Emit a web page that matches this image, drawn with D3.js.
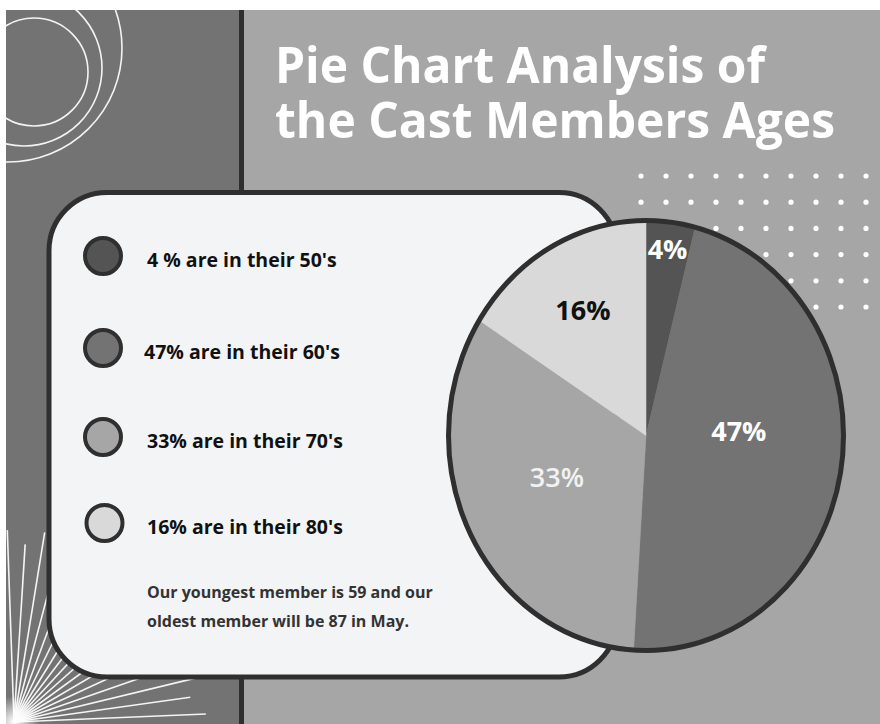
<!DOCTYPE html>
<html><head><meta charset="utf-8">
<script src="https://cdn.jsdelivr.net/npm/d3@7"></script>
<style>body{margin:0;background:#fff} svg{display:block}</style>
</head><body><svg id="c" width="880" height="724"></svg>
<script>
// ---- data ----
const categories = ["50's", "60's", "70's", "80's"];
const values = [4, 47, 33, 16];
const legendLabels = ["4 % are in their 50's", "47% are in their 60's", "33% are in their 70's", "16% are in their 80's"];
const sliceColors = ["#545454", "#737373", "#a6a6a6", "#d9d9d9"];
const titleLines = ["Pie Chart Analysis of", "the Cast Members Ages"];
const noteLines = ["Our youngest member is 59 and our", "oldest member will be 87 in May."];

// ---- layout / style ----
const labelColors = ["#ffffff", "#ffffff", "#f2f2f2", "#111111"];
const labelWeights = [700, 700, 600, 700];
const labelRadius = [172, 94, 100, 131];
const labelNudgeY = [0, -20, -7, 0];
const legendRowY = [256, 348, 437, 523];
const titleWidths = [490, 560];
const FONT = "'Open Sans', sans-serif";

const svg = d3.select("#c");
const W = 880, H = 724;

// backgrounds
svg.append("rect").attr("x", 6).attr("y", 10).attr("width", W - 6).attr("height", H - 10).attr("fill", "#a6a6a6");
svg.append("rect").attr("x", 6).attr("y", 10).attr("width", 234).attr("height", H - 10).attr("fill", "#737373");

const defs = svg.append("defs");
defs.append("clipPath").attr("id", "leftClip").append("rect")
  .attr("x", 6).attr("y", 10).attr("width", 234).attr("height", H - 10);
const glow = defs.append("radialGradient").attr("id", "glow");
glow.append("stop").attr("offset", "0%").attr("stop-color", "#fff").attr("stop-opacity", 1);
glow.append("stop").attr("offset", "100%").attr("stop-color", "#fff").attr("stop-opacity", 0);

const deco = svg.append("g").attr("clip-path", "url(#leftClip)");
// top-left outline circles
[[34, 72, 54], [24, 68, 78], [8, 48, 114]].forEach(([cx, cy, r]) => {
  deco.append("circle").attr("cx", cx).attr("cy", cy).attr("r", r)
    .attr("fill", "none").attr("stroke", "#f4f4f4").attr("stroke-width", 1.6);
});
// bottom-left sunburst
const ox = 14, oy = 722;
d3.range(17).forEach(i => {
  const a = (-2 + i * 5.6) * Math.PI / 180;
  const len = i % 2 ? 178 : 192;
  deco.append("line").attr("x1", ox).attr("y1", oy)
    .attr("x2", ox + len * Math.sin(a)).attr("y2", oy - len * Math.cos(a))
    .attr("stroke", "#f4f4f4").attr("stroke-width", 1.6);
});
deco.append("circle").attr("cx", ox).attr("cy", oy).attr("r", 26).attr("fill", "url(#glow)");

// divider line
svg.append("rect").attr("x", 239).attr("y", 10).attr("width", 5).attr("height", H - 10).attr("fill", "#2f2f2f");

// dot grid
const dotX = d3.range(10).map(i => 641 + i * 25);
const dotY = d3.range(6).map(i => 176 + i * 26.2);
dotY.forEach(y => dotX.forEach(x => {
  svg.append("circle").attr("cx", x).attr("cy", y).attr("r", 2.6).attr("fill", "#ffffff");
}));

// title
svg.append("g").selectAll("text").data(titleLines).join("text")
  .attr("x", 275).attr("y", (d, i) => 83 + i * 55)
  .attr("textLength", (d, i) => titleWidths[i]).attr("lengthAdjust", "spacingAndGlyphs")
  .attr("fill", "#ffffff").attr("font-family", FONT).attr("font-weight", 700)
  .attr("font-size", 51).text(d => d);

// card
svg.append("rect").attr("x", 49).attr("y", 192.5).attr("width", 568).attr("height", 484.5)
  .attr("rx", 58).attr("ry", 58)
  .attr("fill", "#f3f4f6").attr("stroke", "#2f2f2f").attr("stroke-width", 5);

// legend
const yLeg = d3.scaleOrdinal().domain(categories).range(legendRowY);
const leg = svg.append("g").selectAll("g").data(categories).join("g")
  .attr("transform", d => `translate(0,${yLeg(d)})`);
leg.append("circle").attr("cx", (d, i) => i === 3 ? 104.5 : 103).attr("cy", 0).attr("r", 18)
  .attr("fill", (d, i) => sliceColors[i]).attr("stroke", "#2f2f2f").attr("stroke-width", 4);
leg.append("text").attr("x", (d, i) => i === 1 ? 144 : 147).attr("y", 11)
  .attr("font-family", FONT).attr("font-weight", 700).attr("font-size", 19.5)
  .attr("fill", "#111").text((d, i) => legendLabels[i]);

// note
svg.append("g").selectAll("text").data(noteLines).join("text")
  .attr("x", 147).attr("y", (d, i) => 598 + i * 29)
  .attr("font-family", FONT).attr("font-weight", 700).attr("font-size", 16)
  .attr("fill", "#333").text(d => d);

// pie
const cx = 646, cy = 435.5, rx = 197.5, ry = 215, sy = ry / rx;
const pie = d3.pie().sort(null).value(d => d).startAngle(0).endAngle(2 * Math.PI);
const arcs = pie(values);
const arc = d3.arc().innerRadius(0).outerRadius(rx);
const pg = svg.append("g").attr("transform", `translate(${cx},${cy})`);
pg.append("g").attr("transform", `scale(1,${sy})`)
  .selectAll("path").data(arcs).join("path")
  .attr("d", arc).attr("fill", (d, i) => sliceColors[i])
  .attr("stroke", (d, i) => sliceColors[i]).attr("stroke-width", 0.5);
pg.append("ellipse").attr("rx", rx).attr("ry", ry)
  .attr("fill", "none").attr("stroke", "#2f2f2f").attr("stroke-width", 5);
pg.selectAll("text.lbl").data(arcs).join("text").attr("class", "lbl")
  .attr("x", (d, i) => labelRadius[i] * Math.sin((d.startAngle + d.endAngle) / 2))
  .attr("y", (d, i) => -labelRadius[i] * Math.cos((d.startAngle + d.endAngle) / 2) * sy + labelNudgeY[i])
  .attr("dy", "0.35em").attr("text-anchor", "middle")
  .attr("font-family", FONT).attr("font-weight", (d, i) => labelWeights[i]).attr("font-size", 27)
  .attr("fill", (d, i) => labelColors[i]).text(d => d.data + "%");
</script></body></html>
